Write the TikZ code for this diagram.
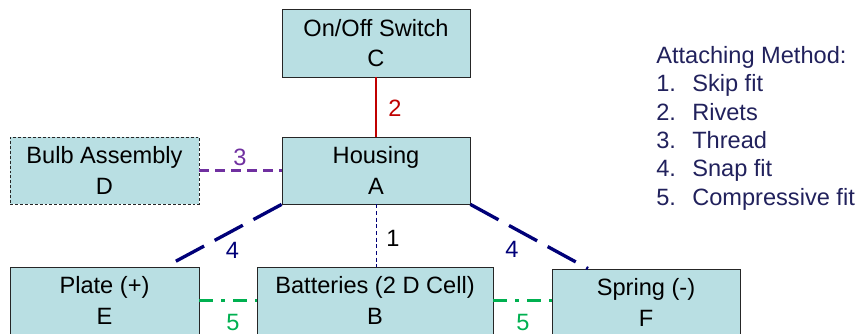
\documentclass[tikz,border=0pt]{standalone}
\usepackage{fontspec}
\setmainfont{Liberation Sans}
\definecolor{boxfill}{RGB}{185,223,227}
\definecolor{legc}{RGB}{33,33,92}
\definecolor{rivred}{RGB}{192,0,0}
\definecolor{thrpurple}{RGB}{112,48,160}
\definecolor{snapnavy}{RGB}{0,0,120}
\definecolor{cgreen}{RGB}{0,176,80}
\begin{document}
\begin{tikzpicture}[x=0.75pt,y=-0.75pt,
  comp/.style={draw=black!85, line width=0.6pt, fill=boxfill, minimum height=50.25pt,
    align=center, inner sep=0pt, font=\fontsize{17.7}{23}\selectfont},
  lbl/.style={font=\fontsize{17.7}{20}\selectfont, inner sep=0pt},
  leg/.style={font=\fontsize{17.7}{20}\selectfont, text=legc, inner sep=0pt, anchor=base west},
  rivline/.style={draw=rivred, line width=1.5pt},
  thrline/.style={draw=thrpurple, line width=2.1pt, dash pattern=on 7.5pt off 4.5pt},
  skipline/.style={draw=snapnavy, line width=0.7pt, dash pattern=on 3pt off 2pt},
  snapline/.style={draw=snapnavy, line width=2.5pt, dash pattern=on 24pt off 9pt},
  compline/.style={draw=cgreen, line width=2.1pt, dash pattern=on 10.5pt off 6pt on 3pt off 6pt}]
\path[use as bounding box] (0,0) rectangle (860,333);
\clip (0,0) rectangle (860,333);

\node[comp, minimum width=141pt, minimum height=51pt, text depth=0pt] (C) at (376,43) {On/Off Switch\\C};
\node[comp, minimum width=141pt] (A) at (376,170.5) {Housing\\A};
\node[comp, minimum width=141.75pt, dash pattern=on 2.2pt off 1.5pt] (D) at (104.5,170.5) {Bulb Assembly\\D};
\node[comp, minimum width=141.75pt] (E) at (104.5,300.5) {Plate (+)\\E};
\node[comp, minimum width=177pt] (B) at (375,300.5) {Batteries (2 D Cell)\\B};
\node[comp, minimum width=141pt] (F) at (646,302.5) {Spring (-)\\F};

\coordinate (e4) at ([xshift=46pt]E.north);
\coordinate (f4) at ([xshift=-43.5pt]F.north);

\draw[rivline] (C.south) -- (A.north);
\draw[thrline] (D.east) -- (A.west);
\draw[skipline] (A.south) -- (A.south |- B.north);
\draw[snapline] (A.south west) -- (e4);
\draw[snapline] (A.south east) -- (f4);
\draw[compline] (E.east) -- (B.west);
\draw[compline] (B.east) -- (B.east -| F.west);

\node[lbl, text=rivred] (n2) at (395,108) {2};
\node[lbl, text=thrpurple] (n3) at (240,157) {3};
\node[lbl, text=black] (n1) at (393,238) {1};
\node[lbl, text=snapnavy] (n4a) at (232.5,250) {4};
\node[lbl, text=snapnavy] (n4b) at (512,249) {4};
\node[lbl, text=cgreen] (n5a) at (233,322) {5};
\node[lbl, text=cgreen] (n5b) at (523,322) {5};

\node[leg] (lt) at (656,63.5) {Attaching Method:};
\node[leg] (l1n) at (656,91.8) {1.};
\node[leg] (l1) at (692,91.8) {Skip fit};
\node[leg] (l2n) at (656,120.2) {2.};
\node[leg] (l2) at (692,120.2) {Rivets};
\node[leg] (l3n) at (656,148.5) {3.};
\node[leg] (l3) at (692,148.5) {Thread};
\node[leg] (l4n) at (656,176.8) {4.};
\node[leg] (l4) at (692,176.8) {Snap fit};
\node[leg] (l5n) at (656,205.2) {5.};
\node[leg] (l5) at (692,205.2) {Compressive fit};
\end{tikzpicture}
\end{document}
